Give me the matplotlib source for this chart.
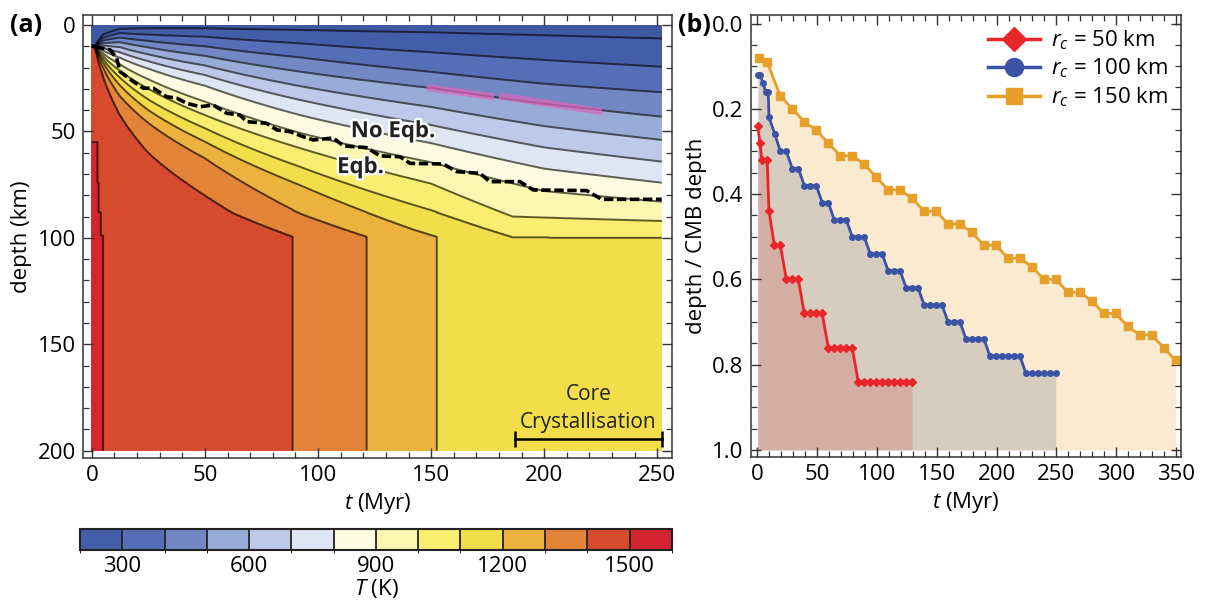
import numpy as np
import matplotlib
matplotlib.use("Agg")
import matplotlib.pyplot as plt
import matplotlib.patheffects as pe
from matplotlib.colors import ListedColormap, BoundaryNorm
from matplotlib.lines import Line2D
from matplotlib.ticker import MultipleLocator

plt.rcParams["font.family"] = "Open Sans"
plt.rcParams["mathtext.fontset"] = "custom"
plt.rcParams["mathtext.rm"] = "Open Sans"
plt.rcParams["mathtext.it"] = "Open Sans:italic"

# ---- (a) temperature field, given as isotherm depths (km) vs time (Myr) ----
iso_levels = [200, 300, 400, 500, 600, 700, 800, 900, 1000, 1100, 1200, 1300, 1400, 1500]
t_common = [0, 1.5, 5, 12.5, 25, 50, 92, 150, 200, 252]
iso_t = [
    t_common, t_common, t_common, t_common, t_common, t_common, t_common, t_common,
    [0, 1.5, 5, 12.5, 25, 50, 92, 150, 186, 252],
    [0, 1.5, 5, 12.5, 25, 50, 92, 150, 176, 186.3, 252],
    [0, 1.5, 5, 12.5, 25, 50, 92, 142.9, 152.5],
    [0, 1.5, 5, 12.5, 25, 50, 92, 112.7, 121.5],
    [0, 1.5, 5, 12.5, 25, 50, 62.4, 77.5, 88.8],
    [0, 2.6, 2.61, 3.2, 3.21, 4.0, 4.01, 5.1],
]
iso_d = [
    [9.5, 9.9, 4.5, 1.8, 1.5, 1.5, 2.3, 3.4, 4.8, 6.3],
    [9.55, 9.95, 6.0, 3.8, 4.5, 5.5, 8.6, 12.8, 16.4, 19.6],
    [9.6, 10.0, 7.3, 5.9, 7.5, 10.0, 15.2, 22.0, 27.6, 31.6],
    [9.65, 10.05, 8.5, 8.1, 10.5, 14.5, 21.9, 29.6, 37.0, 43.1],
    [9.7, 10.1, 9.6, 10.4, 13.8, 19.0, 28.7, 38.5, 47.5, 54.0],
    [9.75, 10.15, 10.8, 12.8, 17.0, 23.5, 35.2, 47.0, 57.5, 64.2],
    [9.8, 10.2, 12.0, 15.4, 20.5, 28.5, 42.3, 55.5, 67.5, 74.1],
    [9.85, 10.25, 13.3, 18.5, 25.5, 36.0, 50.7, 64.5, 78.0, 83.0],
    [9.9, 10.3, 14.6, 21.5, 30.0, 42.3, 57.8, 74.5, 90.0, 92.1],
    [9.95, 10.35, 16.0, 24.8, 35.0, 48.5, 66.6, 87.0, 96.3, 99.7, 99.9],
    [10.0, 10.4, 17.6, 28.4, 40.0, 54.8, 75.2, 96.3, 99.4],
    [10.05, 10.45, 20.0, 33.5, 46.0, 62.6, 88.5, 96.3, 99.4],
    [10.1, 10.5, 24.0, 42.3, 60.0, 80.0, 88.3, 94.9, 99.4],
    [55, 55, 74, 74, 88, 88, 99, 99],
]
T_surface = 150

# equilibration boundary (dashed)
eqb_t = [1.5, 8.1, 11.0, 12.5, 18.4, 22.8, 27.2, 33.1, 37.6, 42.0, 47.9, 53.7, 59.7, 65.5,
         68.5, 77.3, 81.8, 87.6, 93.5, 97.9, 106.8, 111.2, 121.5, 127.4, 136.2, 140.7,
         155.4, 161.3, 171.6, 176.0, 189.3, 195.1, 218.7, 225.4, 251.9]
eqb_d = [10.2, 11.7, 15.6, 21.9, 26.6, 29.7, 29.7, 33.7, 34.4, 36.8, 38.4, 37.6, 41.5, 42.3,
         45.4, 46.2, 49.3, 50.1, 52.5, 54.0, 53.1, 56.8, 57.6, 61.5, 61.9, 65.0,
         65.3, 68.9, 69.7, 73.6, 73.6, 77.5, 77.8, 81.9, 81.9]

# highlighted stretches along the 500 K isotherm
pink_t = [[148.0, 177.8], [180.1, 225.4]]
pink_d = [[29.4, 33.8], [33.4, 40.7]]

core_cryst_t = [187, 252]
core_cryst_d = 194.6

cbar_colors = ["#445DA8", "#566EB7", "#7288C4", "#99ACD8", "#BEC8E8", "#DEE6F4", "#FDFBE2",
               "#FBF6B2", "#F9EE70", "#F2DE4A", "#EBB23E", "#E28338", "#D64A2E", "#D32430"]
under_color = "#3F58A2"
cbar_bounds = list(range(200, 1700, 100))
cbar_ticks = [300, 600, 900, 1200, 1500]

# ---- (b) crystallisation front depth ----
red_t = [0.5, 2.5, 4, 8.5, 10, 14.5, 19.5, 24.5, 29.5, 34.5, 39.5, 44.5, 49.5, 54.5, 59.5,
         64.5, 69.5, 74.5, 79.5, 84.5, 89.5, 94.5, 99.5, 104.5, 109.5, 114.5, 119.5,
         124.5, 129.5]
red_d = [0.24, 0.28, 0.32, 0.32, 0.44, 0.52, 0.52, 0.60, 0.60, 0.60, 0.68, 0.68, 0.68, 0.68,
         0.76, 0.76, 0.76, 0.76, 0.76, 0.84, 0.84, 0.84, 0.84, 0.84, 0.84, 0.84, 0.84,
         0.84, 0.84]
blue_t = [0.5, 2.5, 5, 7.3, 9.4, 10, 15, 19.5, 24.5, 29.5, 34.5, 39.5, 44.5, 49.5, 54.5,
          59.5, 64.5, 69.5, 74.5, 79.5, 84.5, 89.5, 94.5, 99.5, 104.5, 109.5, 114.5, 119.5,
          124.5, 129.5, 134.5, 139.5, 144.5, 149.5, 154.5, 159.5, 164.5, 169.5, 174.5,
          179.5, 184.5, 189.5, 194.5, 199.5, 204.5, 209.5, 214.5, 219.5, 224.5, 229.5,
          234.5, 239.5, 244.5, 249.5]
blue_d = [0.12, 0.12, 0.14, 0.16, 0.16, 0.22, 0.26, 0.30, 0.30, 0.34, 0.34, 0.38, 0.38, 0.38,
          0.42, 0.42, 0.46, 0.46, 0.46, 0.50, 0.50, 0.50, 0.54, 0.54, 0.54, 0.58, 0.58, 0.58,
          0.62, 0.62, 0.62, 0.66, 0.66, 0.66, 0.66, 0.70, 0.70, 0.70, 0.74, 0.74, 0.74,
          0.74, 0.78, 0.78, 0.78, 0.78, 0.78, 0.78, 0.82, 0.82, 0.82, 0.82, 0.82, 0.82]
orange_t = [1.5, 8.5] + [19.5 + 10 * i for i in range(34)]
orange_d = [0.08, 0.09, 0.17, 0.20, 0.23, 0.25, 0.28, 0.31, 0.31, 0.33, 0.36, 0.39, 0.39,
            0.41, 0.44, 0.44, 0.47, 0.47, 0.49, 0.52, 0.52, 0.55, 0.55, 0.57, 0.60, 0.60,
            0.63, 0.63, 0.65, 0.68, 0.68, 0.71, 0.73, 0.73, 0.76, 0.79]
series = [
    (r"$r_c$ = 50 km", red_t, red_d, "#E8262A", "D", 4.5, 12),
    (r"$r_c$ = 100 km", blue_t, blue_d, "#3A53A4", "o", 4.0, 13),
    (r"$r_c$ = 150 km", orange_t, orange_d, "#E6A02A", "s", 6.0, 12),
]


def build_field(tg, dg):
    # isotherms are interpolated in sqrt(t), which follows their diffusive spreading
    T = np.empty((dg.size, tg.size))
    for j, t in enumerate(tg):
        depths = [0.0]
        temps = [T_surface]
        for k, lev in enumerate(iso_levels):
            tk, dk = iso_t[k], iso_d[k]
            if t > tk[-1]:
                depths.append(1e4 + k)
            elif k == len(iso_levels) - 1:
                depths.append(np.interp(t, tk, dk))
            else:
                depths.append(np.interp(np.sqrt(t), np.sqrt(tk), dk))
            temps.append(lev)
        depths.append(1e5)
        temps.append(1600)
        T[:, j] = np.interp(dg, depths, temps)
    return T


def frame_ticks(ax, size=16):
    ax.tick_params(which="both", direction="in", top=True, right=True, labelsize=size,
                   color="#333333", pad=5)
    ax.tick_params(which="major", length=7, width=1.0)
    ax.tick_params(which="minor", length=4, width=0.9)
    for s in ax.spines.values():
        s.set_color("#333333")
        s.set_linewidth(1.1)


fig = plt.figure(figsize=(12.17, 6.03), dpi=100)
axA = fig.add_axes([0.068, 0.241, 0.4844, 0.7341])
axB = fig.add_axes([0.6168, 0.2426, 0.3536, 0.7325])
cax = fig.add_axes([0.0657, 0.0875, 0.4864, 0.0348])

# panel (a)
tg = np.linspace(0, 252, 1009)
dg = np.linspace(0, 200, 801)
T = build_field(tg, dg)
axA.contourf(tg, dg, T, levels=[0] + cbar_bounds, colors=[under_color] + cbar_colors)
axA.contour(tg, dg, T, levels=iso_levels, colors="k", linewidths=1.4, alpha=0.62)

for pt, pd_ in zip(pink_t, pink_d):
    axA.plot(pt, pd_, color="#DD66BB", lw=5, alpha=0.72, solid_capstyle="butt")
axA.plot(eqb_t, eqb_d, color="k", lw=2.6, ls=(0, (2.6, 1.0)))

halo = [pe.withStroke(linewidth=3.5, foreground="white")]
axA.text(133.2, 50.1, "No Eqb.", fontsize=16, fontweight="bold", color="#222222",
         ha="center", va="center", path_effects=halo)
axA.text(118.8, 67.0, "Eqb.", fontsize=16, fontweight="bold", color="#222222",
         ha="center", va="center", path_effects=halo)

axA.plot(core_cryst_t, [core_cryst_d] * 2, color="k", lw=1.8, marker="|", ms=11, mew=1.8)
axA.text(219.5, 173.5, "Core", fontsize=15, ha="center", va="center", color="#222222")
axA.text(219.5, 187.0, "Crystallisation", fontsize=15, ha="center", va="center",
         color="#222222")

axA.set_xlim(-4.0, 256.6)
axA.set_ylim(203.3, -4.7)
axA.xaxis.set_major_locator(MultipleLocator(50))
axA.xaxis.set_minor_locator(MultipleLocator(10))
axA.yaxis.set_major_locator(MultipleLocator(50))
axA.yaxis.set_minor_locator(MultipleLocator(10))
frame_ticks(axA)
axA.set_xlabel(r"$t$ (Myr)", fontsize=16)
axA.set_ylabel("depth (km)", fontsize=16)

# colour bar
cmap = ListedColormap(cbar_colors)
norm = BoundaryNorm(cbar_bounds, cmap.N)
cb = fig.colorbar(plt.cm.ScalarMappable(norm=norm, cmap=cmap), cax=cax,
                  orientation="horizontal", ticks=cbar_ticks, drawedges=True)
cb.dividers.set_color("#222222")
cb.dividers.set_linewidth(1.3)
cb.outline.set_edgecolor("#222222")
cb.outline.set_linewidth(1.5)
cax.tick_params(length=0, labelsize=16, pad=4)
cb.set_label(r"$T$ (K)", fontsize=16, labelpad=0)

# panel (b)
for _, t, d, c, m, ms, _ in series:
    axB.fill_between(t, d, 1.0, color=c, alpha=0.22, lw=0)
handles = []
for lab, t, d, c, m, ms, lms in series:
    axB.plot(t, d, color=c, lw=2.0, marker=m, ms=ms, mec=c)
    handles.append(Line2D([0], [0], color=c, lw=2.5, marker=m, ms=lms, mec=c, label=lab))
axB.legend(handles=handles, loc="upper right", bbox_to_anchor=(1.0, 1.0), frameon=False,
           fontsize=16, handlelength=2.3, labelspacing=0.22, handletextpad=0.5,
           borderaxespad=0.2)

axB.set_xlim(-5.3, 354)
axB.set_ylim(1.016, -0.02)
axB.xaxis.set_major_locator(MultipleLocator(50))
axB.xaxis.set_minor_locator(MultipleLocator(10))
axB.yaxis.set_major_locator(MultipleLocator(0.2))
axB.yaxis.set_minor_locator(MultipleLocator(0.05))
axB.yaxis.set_major_formatter(plt.FormatStrFormatter("%.1f"))
frame_ticks(axB)
axB.set_xlabel(r"$t$ (Myr)", fontsize=16)
axB.set_ylabel("depth / CMB depth", fontsize=16)

fig.text(0.008, 0.9585, "(a)", fontsize=18, fontweight="bold", va="center")
fig.text(0.557, 0.9585, "(b)", fontsize=18, fontweight="bold", va="center")

fig.savefig("out.png", dpi=100)
